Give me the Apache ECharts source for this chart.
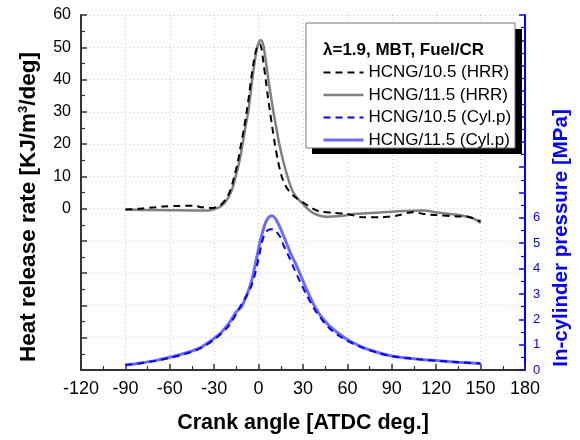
<!DOCTYPE html>
<html>
<head>
<meta charset="utf-8">
<script src="https://cdn.jsdelivr.net/npm/echarts@6/dist/echarts.min.js"></script>
<style>html,body{margin:0;padding:0;background:#fff}#c{width:580px;height:440px}</style>
</head>
<body>
<div id="c"></div>
<script>
// Crank angle [deg], value pairs
var hrr105 = [[-90,-0.3],[-80,0],[-70,0.4],[-64,0.7],[-55,0.8],[-44,0.9],[-38,0.4],[-34,0.2],[-30,0.3],[-26,1],[-22,3],[-19,5.8],[-16.4,10],[-14,14.5],[-11.9,20],[-10,24.5],[-8.1,30],[-6.5,35],[-5.1,40],[-3.5,45],[-2,48.5],[-0.5,50.6],[0.8,51],[2,49.5],[3.2,45.5],[4.8,40],[6.2,35],[7.7,30],[9.3,25],[11,20],[13,15],[15.6,10],[18,7.3],[20,5.8],[23,4.2],[25.7,3.2],[29,2.2],[32.5,1.2],[37,-0.1],[41.5,-0.9],[50.5,-1.3],[59.5,-1.6],[70.8,-2.7],[82,-2.7],[88.8,-2.4],[93,-2.2],[104.5,-1.1],[111,-1.6],[116,-1.9],[120,-2.0],[134,-2.4],[140,-2.4],[150,-4.0]];
var hrr115 = [[-90,-0.3],[-80,-0.4],[-60,-0.5],[-40,-0.6],[-33,-0.5],[-29,0],[-26,0.6],[-23,1.8],[-20,3.8],[-17.5,6.5],[-15.5,10],[-13,14.5],[-10.8,20],[-9,25],[-7,30],[-5.6,35],[-4.3,40],[-2.8,45],[-1.2,49.5],[0.3,51.7],[1.6,52.2],[3,51],[4.5,47],[6.6,40],[8.3,35],[10,30],[12,25],[14,20],[16.5,15],[19.5,10],[22,6.5],[24,4.6],[27,2.8],[30,1.5],[33,0],[37,-1.4],[41.5,-2.2],[46,-2.5],[55,-2.3],[66,-1.6],[82,-1.2],[95,-0.8],[111,-0.6],[122,-1.3],[138,-2.2],[145,-3],[150,-4.4]];
var cyl105 = [[-90,0.2],[-80,0.27],[-70,0.36],[-60,0.48],[-50,0.63],[-40,0.84],[-30,1.2],[-20,1.75],[-12.4,2.5],[-8,2.95],[-5,3.3],[-2.4,3.79],[0,4.4],[2.1,5.0],[4,5.35],[6,5.5],[8,5.55],[10,5.55],[12,5.45],[14.5,5.26],[17,4.9],[20,4.53],[24,4.0],[28,3.48],[33,2.9],[38,2.37],[43,1.97],[48,1.64],[54,1.36],[60,1.15],[70,0.88],[80,0.69],[90,0.55],[100,0.47],[110,0.41],[120,0.37],[135,0.31],[150,0.26]];
var cyl115 = [[-90,0.2],[-80,0.27],[-70,0.37],[-60,0.5],[-50,0.66],[-40,0.86],[-30,1.25],[-25,1.5],[-20,1.85],[-15,2.3],[-11.5,2.5],[-8,2.95],[-5,3.45],[-3.6,3.79],[-1,4.5],[1,5.06],[3,5.5],[5,5.85],[7,6.03],[9,6.08],[11,6.0],[13,5.8],[15,5.55],[18.5,5.06],[22,4.55],[25,4.2],[28,3.79],[33,3.1],[38,2.5],[43,2.05],[48,1.73],[55,1.4],[60,1.2],[70,0.9],[80,0.7],[90,0.55],[100,0.47],[110,0.41],[120,0.37],[135,0.31],[150,0.26]];
var seriesNames = ['HCNG/10.5 (HRR)','HCNG/11.5 (HRR)','HCNG/10.5 (Cyl.p)','HCNG/11.5 (Cyl.p)'];

var FONT = 'Liberation Sans, Arial, sans-serif';
var chart = echarts.init(document.getElementById('c'), null, {renderer:'canvas'});
chart.setOption({
  animation:false,
  backgroundColor:'#fff',
  grid:{left:81,right:55,top:15,bottom:70,containLabel:false},
  xAxis:{type:'value',min:-120,max:180,interval:30,
    name:'Crank angle [ATDC deg.]',nameLocation:'middle',nameGap:42,
    nameTextStyle:{fontFamily:FONT,fontSize:21.5,fontWeight:'bold',color:'#000'},
    axisLine:{onZero:false,lineStyle:{color:'#333',width:2}},
    axisTick:{inside:true,length:6,lineStyle:{color:'#333',width:1.5}},
    minorTick:{show:true,splitNumber:2,length:4,lineStyle:{color:'#333',width:1.2}},
    axisLabel:{fontFamily:FONT,fontSize:18,color:'#000',margin:10},
    splitLine:{show:true,lineStyle:{color:'#ccc',type:[1,3],width:1}}
  },
  yAxis:[{type:'value',min:-50,max:60,interval:10,position:'left',
    axisLine:{show:true,onZero:false,lineStyle:{color:'#333',width:2}},
    axisTick:{show:true,inside:true,length:6,lineStyle:{color:'#333',width:1.5}},
    minorTick:{show:true,splitNumber:2,length:4,lineStyle:{color:'#333',width:1.2}},
    axisLabel:{fontFamily:FONT,fontSize:16,color:'#000',margin:10,
      formatter:function(v){return v>=0?String(v):'';}},
    splitLine:{show:true,lineStyle:{color:'#ccc',type:[1,3],width:1}}
  },{type:'value',min:0,max:14,interval:1,position:'right',
    axisLine:{show:true,onZero:false,lineStyle:{color:'#0000ff',width:2}},
    axisTick:{show:true,inside:true,length:6,lineStyle:{color:'#0000ff',width:1.5}},
    minorTick:{show:true,splitNumber:2,length:4,lineStyle:{color:'#0000ff',width:1.2}},
    axisLabel:{fontFamily:FONT,fontSize:13,color:'#0000ff',margin:8,
      formatter:function(v){return v<=6?String(v):'';}},
    splitLine:{show:false}
  }],
  legend:{orient:'vertical',left:322,top:64,padding:0,itemWidth:40,itemHeight:14,itemGap:5.5,z:100,
    data:[
      {name:seriesNames[0],lineStyle:{width:2}},
      {name:seriesNames[1],lineStyle:{width:2.5}},
      {name:seriesNames[2],lineStyle:{width:2}},
      {name:seriesNames[3],lineStyle:{width:3}}
    ],
    itemStyle:{opacity:0,borderWidth:0},
    textStyle:{fontFamily:FONT,fontSize:17,color:'#000'}
  },
  graphic:{elements:[
    {type:'rect',z:50,shape:{x:312,y:29,width:210,height:125},style:{fill:'#000'}},
    {type:'rect',z:51,shape:{x:306,y:23,width:209,height:125},style:{fill:'#fff',stroke:'#777',lineWidth:1}},
    {type:'text',z:101,left:323,top:42,style:{text:'λ=1.9, MBT, Fuel/CR',fontFamily:FONT,fontSize:17,fontWeight:'bold',fill:'#000'}},
    {type:'text',z:101,x:29,y:207,rotation:Math.PI/2,
      style:{text:'Heat release rate [KJ/m{s|3}/deg]',fontFamily:FONT,fontSize:22.5,fontWeight:'bold',fill:'#000',align:'center',verticalAlign:'middle',
        rich:{s:{fontFamily:FONT,fontSize:13,fontWeight:'bold',fill:'#000',verticalAlign:'top',padding:[0,0,11,0]}}}},
    {type:'text',z:101,x:561,y:238,rotation:Math.PI/2,
      style:{text:'In-cylinder pressure [MPa]',fontFamily:FONT,fontSize:20.5,fontWeight:'bold',fill:'#0000ff',align:'center',verticalAlign:'middle'}}
  ]},
  series:[
    {name:seriesNames[0],type:'line',yAxisIndex:0,data:hrr105,smooth:0.3,symbol:'none',
      lineStyle:{color:'#000',width:2,type:[7,5]},itemStyle:{color:'#000'},z:3},
    {name:seriesNames[1],type:'line',yAxisIndex:0,data:hrr115,smooth:0.3,symbol:'none',
      lineStyle:{color:'#808080',width:2.5,type:'solid'},itemStyle:{color:'#808080'},z:2},
    {name:seriesNames[2],type:'line',yAxisIndex:1,data:cyl105,smooth:0.3,symbol:'none',
      lineStyle:{color:'#0000ff',width:2,type:[7,5]},itemStyle:{color:'#0000ff'},z:3},
    {name:seriesNames[3],type:'line',yAxisIndex:1,data:cyl115,smooth:0.3,symbol:'none',
      lineStyle:{color:'#6b6bff',width:3,type:'solid'},itemStyle:{color:'#6b6bff'},z:2}
  ]
});
</script>
</body>
</html>
